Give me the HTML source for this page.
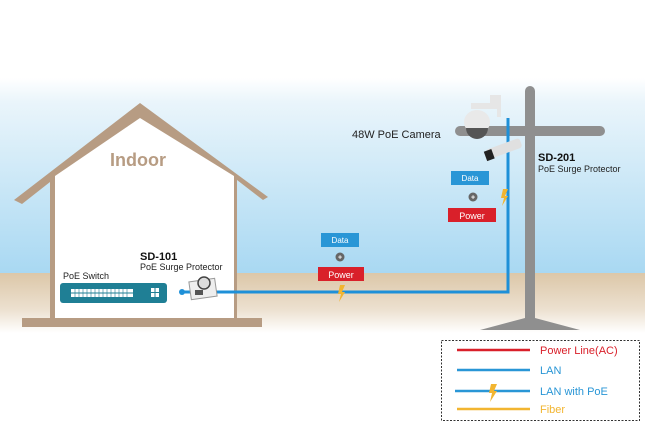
<!DOCTYPE html>
<html><head><style>body{margin:0}svg{display:block;font-family:"Liberation Sans",sans-serif}</style></head><body>
<svg width="645" height="427" viewBox="0 0 645 427" xmlns="http://www.w3.org/2000/svg">
<defs>
<linearGradient id="sky" x1="0" y1="0" x2="0" y2="1"><stop offset="0" stop-color="#fff"/><stop offset="0.12" stop-color="#eaf5fb"/><stop offset="1" stop-color="#a8d8f2"/></linearGradient>
<linearGradient id="gr" x1="0" y1="0" x2="0" y2="1"><stop offset="0" stop-color="#dcc7a8"/><stop offset="0.6" stop-color="#ece0cf"/><stop offset="1" stop-color="#fff"/></linearGradient>
</defs>
<rect width="645" height="427" fill="#fff"/>
<rect y="78" width="645" height="197" fill="url(#sky)"/>
<rect y="273" width="645" height="60" fill="url(#gr)"/>
<!-- house -->
<polygon points="140,103 14,200 22,204 50,182 50,320 237,320 237,180 263,200 268,197" fill="#b79c83"/>
<polygon points="140,118 55,176 55,318 234,318 234,176" fill="#fff"/>
<rect x="22" y="318" width="240" height="9" fill="#b79c83"/>
<text x="110" y="166" font-size="18" font-weight="bold" fill="#b79c83">Indoor</text>
<!-- pole -->
<rect x="525" y="86" width="10" height="242" rx="5" fill="#8f8f8f"/>
<rect x="455" y="126" width="150" height="10" rx="5" fill="#8f8f8f"/>
<polygon points="525,318 535,318 580,330 480,330" fill="#8f8f8f"/>
<!-- lines -->
<polyline points="182,292 508,292 508,118" fill="none" stroke="#1e90d8" stroke-width="3"/>
<circle cx="182" cy="292" r="3" fill="#1e90d8"/>
<!-- switch -->
<rect x="60" y="283" width="107" height="20" rx="3" fill="#1f7f95"/>
<g fill="#fff"><rect x="71" y="289" width="62" height="3.5"/><rect x="71" y="293.5" width="62" height="3.5"/><rect x="151" y="288" width="3.5" height="4"/><rect x="155.5" y="288" width="3.5" height="4"/><rect x="151" y="293" width="3.5" height="4"/><rect x="155.5" y="293" width="3.5" height="4"/></g>
<g stroke="#1f7f95" stroke-width="0.6"><path d="M75,289v8M79,289v8M83,289v8M87,289v8M91,289v8M95,289v8M99,289v8M103,289v8M107,289v8M111,289v8M115,289v8M119,289v8M123,289v8M127,289v8"/></g>
<text x="63" y="279" font-size="9" fill="#222">PoE Switch</text>
<text x="140" y="260" font-size="11" font-weight="bold" fill="#111">SD-101</text>
<text x="140" y="270" font-size="9" fill="#222">PoE Surge Protector</text>
<rect x="190" y="280" width="26" height="18" fill="#eee" stroke="#999" transform="rotate(-8 203 289)"/>
<circle cx="204" cy="283" r="6" fill="#ddd" stroke="#444" stroke-width="1.5"/>
<rect x="195" y="290" width="8" height="5" fill="#555"/>
<!-- camera -->
<path d="M490,95 h11 v22 h-4 v-8 h-26 v-6 h19 z" fill="#e6e6e6"/>
<ellipse cx="477" cy="122" rx="13" ry="12" fill="#e9e9e9"/>
<path d="M466,128 a11,11 0 0 0 22,0 z" fill="#555"/>
<text x="352" y="138" font-size="11" fill="#222">48W PoE Camera</text>
<rect x="486" y="144" width="36" height="10" rx="3" fill="#e0e0e0" transform="rotate(-20 503 149)"/>
<rect x="484" y="145" width="8" height="10" fill="#222" transform="rotate(-20 503 149)"/>
<text x="538" y="161" font-size="11" font-weight="bold" fill="#111">SD-201</text>
<text x="538" y="172" font-size="9" fill="#222">PoE Surge Protector</text>
<!-- labels -->
<rect x="451" y="171" width="38" height="14" fill="#2996d6"/><text x="470" y="181" font-size="8" fill="#fff" text-anchor="middle">Data</text>
<circle cx="473" cy="197" r="4.5" fill="#666"/><text x="473" y="199.5" font-size="7" fill="#fff" text-anchor="middle" font-weight="bold">+</text>
<rect x="448" y="208" width="48" height="14" fill="#d9202a"/><text x="472" y="219" font-size="9" fill="#fff" text-anchor="middle">Power</text>
<polygon points="503,189 508,189 505,196 508,196 502,206 504,198 501,198" fill="#f2b530"/>
<rect x="321" y="233" width="38" height="14" fill="#2996d6"/><text x="340" y="243" font-size="8" fill="#fff" text-anchor="middle">Data</text>
<circle cx="340" cy="257" r="4.5" fill="#666"/><text x="340" y="259.5" font-size="7" fill="#fff" text-anchor="middle" font-weight="bold">+</text>
<rect x="318" y="267" width="46" height="14" fill="#d9202a"/><text x="341" y="278" font-size="9" fill="#fff" text-anchor="middle">Power</text>
<polygon points="340,285 345,285 342,292 345,292 339,302 341,294 338,294" fill="#f2b530"/>
<!-- legend -->
<rect x="441.5" y="340.5" width="198" height="80" fill="#fff" stroke="#333" stroke-dasharray="2,1.5"/>
<line x1="457" y1="350" x2="530" y2="350" stroke="#d9202a" stroke-width="2.5"/>
<text x="540" y="354" font-size="11" fill="#d9202a">Power Line(AC)</text>
<line x1="457" y1="370" x2="530" y2="370" stroke="#2996d6" stroke-width="2.5"/>
<text x="540" y="374" font-size="11" fill="#2996d6">LAN</text>
<line x1="455" y1="391" x2="530" y2="391" stroke="#2996d6" stroke-width="2.5"/>
<polygon points="491,384 497,384 494,391 497,391 490,402 492,393 489,393" fill="#f2b530"/>
<text x="540" y="395" font-size="11" fill="#2996d6">LAN with PoE</text>
<line x1="457" y1="409" x2="530" y2="409" stroke="#f2b530" stroke-width="2.5"/>
<text x="540" y="413" font-size="11" fill="#f2b530">Fiber</text>
</svg>
</body></html>
